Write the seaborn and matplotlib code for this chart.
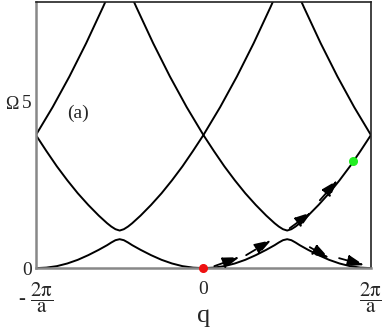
import pandas as pd
import seaborn as sns
import matplotlib
matplotlib.use('Agg')
import matplotlib.pyplot as plt

# q in units of pi/a, right half only (picture is symmetric about q=0)
q_band = [0, 0.125, 0.25, 0.375, 0.5, 0.625, 0.75, 0.85, 0.9, 0.95, 1.0,
          1.05, 1.1, 1.15, 1.25, 1.375, 1.5, 1.625, 1.75, 1.875, 2.0]
lower_band = [0, 0.016, 0.06, 0.14, 0.25, 0.39, 0.55, 0.69, 0.77, 0.84, 0.87,
              0.84, 0.77, 0.69, 0.55, 0.39, 0.25, 0.14, 0.06, 0.016, 0]
upper_band = [4.0, 3.52, 3.06, 2.64, 2.25, 1.90, 1.58, 1.35, 1.25, 1.17, 1.13,
              1.17, 1.25, 1.35, 1.58, 1.90, 2.25, 2.64, 3.06, 3.52, 4.0]
q_inner = [0, 0.2, 0.4, 0.6, 0.8, 0.85]
inner_branch = [4.0, 4.84, 5.76, 6.76, 7.84, 8.12]
q_outer = [1.15, 1.2, 1.4, 1.6, 1.8, 2.0]
outer_branch = [8.12, 7.84, 6.76, 5.76, 4.84, 4.0]

# dashed arrows (start q, start omega, end q, end omega)
arrow_q0 = [0.13, 0.51, 1.03, 1.39, 1.27, 1.62]
arrow_w0 = [0.06, 0.39, 1.20, 2.04, 0.63, 0.30]
arrow_q1 = [0.43, 0.81, 1.29, 1.60, 1.50, 1.92]
arrow_w1 = [0.33, 0.84, 1.68, 2.64, 0.30, 0.09]

start_point = (0.0, 0.0)
end_point = (1.79, 3.21)


def mirrored(q, w):
    q_full = [-x for x in reversed(q)] + list(q)
    w_full = list(reversed(w)) + list(w)
    return q_full, w_full


rows = []
branches = {'lower': (q_band, lower_band), 'upper': (q_band, upper_band)}
for name, (q, w) in branches.items():
    qf, wf = mirrored(q, w)
    rows += [(name, a, b) for a, b in zip(qf, wf)]
for side in [1, -1]:
    rows += [(f'inner{side}', side * a, b) for a, b in zip(q_inner, inner_branch)]
    rows += [(f'outer{side}', side * a, b) for a, b in zip(q_outer, outer_branch)]
df = pd.DataFrame(rows, columns=['branch', 'q', 'omega'])

sns.set_style('white')
plt.rcParams['font.family'] = ['Liberation Serif', 'DejaVu Serif']
plt.rcParams['mathtext.fontset'] = 'stix'

fig = plt.figure(figsize=(3.82, 3.27), dpi=100)
ax = fig.add_axes([0.094, 0.180, 0.877, 0.814])

sns.lineplot(data=df, x='q', y='omega', units='branch', estimator=None,
             sort=False, color='black', lw=1.4, ax=ax, legend=False)

for q0, w0, q1, w1 in zip(arrow_q0, arrow_w0, arrow_q1, arrow_w1):
    ax.annotate('', xy=(q1, w1), xytext=(q0, w0),
                arrowprops=dict(arrowstyle='-|>,head_length=1.0,head_width=0.33',
                                ls=(0, (6, 2)), lw=1.3, color='black',
                                shrinkA=0, shrinkB=0))

ax.plot(*start_point, 'o', color='#ee1111', ms=5.5, zorder=5, clip_on=False)
ax.plot(*end_point, 'o', color='#22ee22', ms=5.5, zorder=5)

ax.set_xlim(-2, 2)
ax.set_ylim(0, 8)
ax.set_xticks([-2, 0, 2])
ax.set_xticklabels([r'- $\dfrac{\mathrm{2\pi}}{\mathrm{a}}$', '0',
                    r'$\dfrac{\mathrm{2\pi}}{\mathrm{a}}$'])
ax.set_yticks([0, 5])
ax.tick_params(axis='both', direction='in', length=4, width=1, labelsize=14)
ax.tick_params(axis='x', pad=9)
ax.tick_params(axis='y', pad=3)
for lab in ax.get_xticklabels():
    if lab.get_text() != '0':
        lab.set_fontsize(15)

ax.set_xlabel('q', fontsize=19)
ax.xaxis.set_label_coords(0.5, -0.14)
ax.set_ylabel('Ω', fontsize=13, rotation=0, va='center', ha='center')
ax.yaxis.set_label_coords(-0.072, 0.615)

ax.text(-1.50, 4.65, '(a)', fontsize=14, ha='center', va='center')

for side in ['left', 'bottom']:
    ax.spines[side].set_color('#888888')
    ax.spines[side].set_linewidth(1.8)
for side in ['top', 'right']:
    ax.spines[side].set_color('#222222')
    ax.spines[side].set_linewidth(1.2)

fig.savefig('out.png', dpi=100)
